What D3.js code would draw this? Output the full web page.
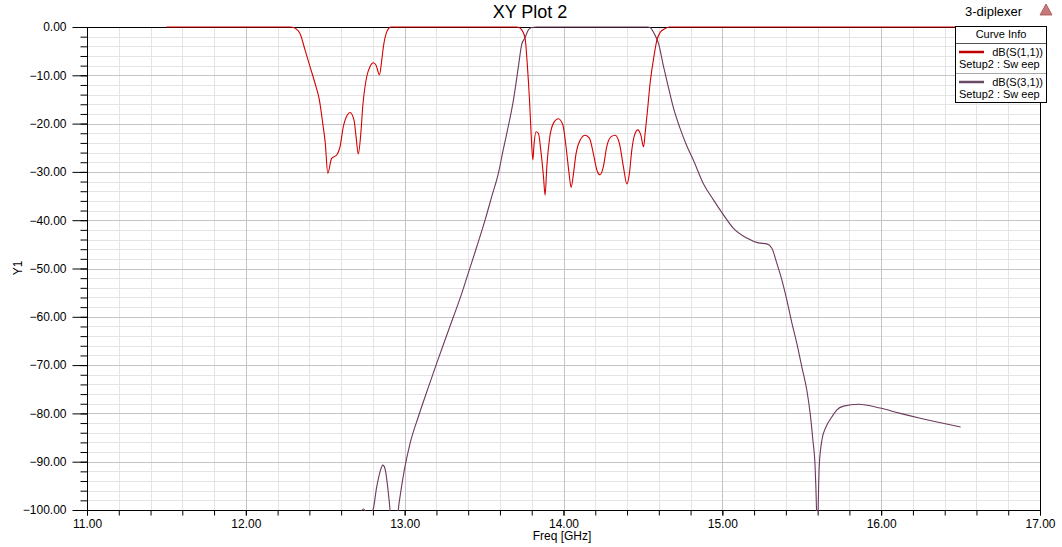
<!DOCTYPE html>
<html>
<head>
<meta charset="utf-8">
<script src="https://cdn.jsdelivr.net/npm/d3@7"></script>
<style>
  html, body { margin: 0; padding: 0; background: #fff; }
  svg { display: block; font-family: "Liberation Sans", Arial, sans-serif; }
</style>
</head>
<body>
<svg id="chart" width="1062" height="547"></svg>
<script>
// ---------------- data ----------------
const s11Freq = [11.5, 12.0, 12.28, 12.30, 12.34, 12.373, 12.404, 12.436, 12.463, 12.484, 12.50, 12.516, 12.54, 12.572, 12.593, 12.614, 12.639, 12.656, 12.681, 12.694, 12.708, 12.724, 12.736, 12.761, 12.782, 12.803, 12.82, 12.841, 12.856, 12.866, 12.887, 12.90, 12.912, 13.70, 13.716, 13.737, 13.758, 13.773, 13.786, 13.796, 13.807, 13.815, 13.827, 13.842, 13.857, 13.874, 13.884, 13.895, 13.911, 13.937, 13.968, 13.996, 14.016, 14.035, 14.048, 14.063, 14.079, 14.105, 14.136, 14.163, 14.188, 14.21, 14.23, 14.251, 14.272, 14.30, 14.325, 14.352, 14.377, 14.399, 14.415, 14.43, 14.447, 14.468, 14.487, 14.504, 14.514, 14.529, 14.545, 14.566, 14.588, 14.609, 14.64, 14.67, 16.5];
const s11dB = [0, 0, 0, -0.1, -1.3, -4.8, -8.2, -11.7, -15.1, -19.9, -24, -30.3, -27.2, -26.5, -24.8, -20.6, -18.2, -17.7, -19.3, -22.7, -26.3, -22, -16.5, -10.3, -8.2, -7.4, -7.9, -9.9, -6.8, -4.1, -1.0, -0.3, 0, 0, -0.05, -0.6, -2.3, -8.2, -15.1, -22, -27.5, -24.1, -21.7, -22, -25.5, -31, -34.8, -28.9, -23.4, -19.9, -19.0, -20.3, -24.8, -30.3, -33.2, -30.3, -26.2, -23.4, -22.4, -23.0, -26.2, -29.6, -30.6, -28.9, -24.8, -22.7, -22.4, -24.1, -28.9, -32.5, -30.3, -25.5, -22.4, -21.3, -22.4, -24.8, -22, -17.2, -11.7, -6.8, -2.7, -1.1, -0.3, 0, 0];

const s31Freq = [11.5, 12.5, 12.70, 12.74, 12.77, 12.80, 12.824, 12.845, 12.862, 12.876, 12.893, 12.908, 12.93, 12.95, 12.96, 12.977, 12.998, 13.034, 13.086, 13.15, 13.202, 13.254, 13.307, 13.36, 13.40, 13.454, 13.506, 13.548, 13.59, 13.62, 13.643, 13.685, 13.716, 13.737, 13.758, 13.779, 13.80, 13.83, 14.53, 14.545, 14.57, 14.598, 14.63, 14.66, 14.69, 14.734, 14.776, 14.818, 14.88, 14.944, 15.007, 15.07, 15.154, 15.227, 15.28, 15.312, 15.343, 15.375, 15.406, 15.438, 15.469, 15.50, 15.532, 15.553, 15.57, 15.584, 15.593, 15.598, 15.603, 15.61, 15.627, 15.654, 15.69, 15.72, 15.763, 15.857, 15.994, 16.12, 16.246, 16.5];
const s31dB = [-130, -115, -102, -99.8, -101, -100, -95.2, -92.1, -90.7, -91.4, -95.2, -100, -110, -104, -100, -95.9, -91.7, -86.2, -80.7, -74.5, -69.6, -64.8, -60, -55.1, -51.0, -45.5, -40, -35.1, -30.3, -25.5, -22, -15.1, -8.2, -3.6, -2.2, -0.6, -0.1, 0, 0, -0.1, -1.3, -3.4, -8.2, -12.4, -16.5, -21.0, -24.6, -27.6, -32.4, -35.8, -38.9, -41.7, -43.7, -44.7, -44.9, -45.8, -48.9, -52.4, -56.5, -61.3, -65.5, -70.3, -75.2, -80, -85.5, -91, -100, -108, -100, -91, -85.5, -82.7, -80.7, -79.3, -78.5, -78.1, -78.9, -80, -81, -82.8];

const xTicks = [11, 12, 13, 14, 15, 16, 17];
const yTicks = [0, -10, -20, -30, -40, -50, -60, -70, -80, -90, -100];
const seriesNames = ["dB(S(1,1))", "dB(S(3,1))"];
const seriesSetup = ["Setup2 : Sw eep", "Setup2 : Sw eep"];
const seriesColors = ["#d40000", "#6b3a5c"];
const legendColors = ["#c00000", "#6b4a66"];

// ---------------- layout ----------------
const svg = d3.select("#chart");
const L = 87, T = 27, R = 1040, B = 510;
const x = d3.scaleLinear().domain([11, 17]).range([L, R]);
const y = d3.scaleLinear().domain([-100, 0]).range([B, T]);

// grid
const minorX = d3.range(11, 17.001, 0.2).map(v => +v.toFixed(2));
const minorY = d3.range(-100, 0.001, 2).map(v => +v.toFixed(2));
const grid = svg.append("g");
grid.selectAll("line.mx").data(minorX).enter().append("line")
  .attr("x1", d => Math.round(x(d)) + 0.5).attr("x2", d => Math.round(x(d)) + 0.5)
  .attr("y1", T).attr("y2", B).attr("stroke", "#e4e4e4").attr("stroke-width", 1);
grid.selectAll("line.my").data(minorY).enter().append("line")
  .attr("y1", d => Math.round(y(d)) + 0.5).attr("y2", d => Math.round(y(d)) + 0.5)
  .attr("x1", L).attr("x2", R).attr("stroke", "#e4e4e4").attr("stroke-width", 1);
grid.selectAll("line.Mx").data(xTicks).enter().append("line")
  .attr("x1", d => Math.round(x(d)) + 0.5).attr("x2", d => Math.round(x(d)) + 0.5)
  .attr("y1", T).attr("y2", B).attr("stroke", "#c4c4c4").attr("stroke-width", 1);
grid.selectAll("line.My").data(yTicks).enter().append("line")
  .attr("y1", d => Math.round(y(d)) + 0.5).attr("y2", d => Math.round(y(d)) + 0.5)
  .attr("x1", L).attr("x2", R).attr("stroke", "#c4c4c4").attr("stroke-width", 1);

// border
svg.append("rect").attr("x", L + 0.5).attr("y", T + 0.5)
  .attr("width", R - L).attr("height", B - T)
  .attr("fill", "none").attr("stroke", "#000").attr("stroke-width", 1);

// axes
const yAxisMinor = d3.axisLeft(y).tickValues(minorY).tickSize(7).tickFormat("");
const yAxisMajor = d3.axisLeft(y).tickValues(yTicks).tickSize(15).tickPadding(6).tickFormat(d3.format(".2f"));
const xAxisMinor = d3.axisBottom(x).tickValues(minorX).tickSize(5).tickFormat("");
const xAxisMajor = d3.axisBottom(x).tickValues(xTicks).tickSize(5).tickPadding(4).tickFormat(d3.format(".2f"));

function styleAxis(g) {
  g.select(".domain").remove();
  g.selectAll(".tick line").attr("stroke", "#000");
  g.selectAll(".tick text").attr("fill", "#000").attr("font-size", 12)
    .attr("font-family", "'Liberation Sans', Arial, sans-serif");
}
svg.append("g").attr("transform", `translate(${L + 0.5},0)`).call(yAxisMinor).call(styleAxis);
svg.append("g").attr("transform", `translate(${L + 0.5},0)`).call(yAxisMajor).call(styleAxis);
svg.append("g").attr("transform", `translate(0,${B + 0.5})`).call(xAxisMinor).call(styleAxis);
svg.append("g").attr("transform", `translate(0,${B + 0.5})`).call(xAxisMajor).call(styleAxis);

// curves
svg.append("clipPath").attr("id", "plotclip").append("rect")
  .attr("x", L).attr("y", T - 1).attr("width", R - L + 1).attr("height", B - T + 2);
const line = d3.line().curve(d3.curveMonotoneX).x(d => x(d[0])).y(d => y(d[1]));
const cg = svg.append("g").attr("clip-path", "url(#plotclip)");
const s31 = s31Freq.map((f, i) => [f, s31dB[i]]);
const s11 = s11Freq.map((f, i) => [f, s11dB[i]]);
cg.append("path").datum(s31).attr("d", line).attr("fill", "none")
  .attr("stroke", seriesColors[1]).attr("stroke-width", 1.1);
cg.append("path").datum(s11).attr("d", line).attr("fill", "none")
  .attr("stroke", seriesColors[0]).attr("stroke-width", 1.1);

// titles
svg.append("text").attr("x", 530).attr("y", 18).attr("text-anchor", "middle")
  .attr("font-size", 18).attr("fill", "#000").text("XY Plot 2");
svg.append("text").attr("x", 965).attr("y", 16).attr("font-size", 13)
  .attr("fill", "#000").text("3-diplexer");
svg.append("path").attr("d", "M1046,4 L1052,15 L1040,15 Z")
  .attr("fill", "#c87a78").attr("stroke", "#a05050").attr("stroke-width", 0.8);
svg.append("text").attr("x", 562).attr("y", 540).attr("text-anchor", "middle")
  .attr("font-size", 12).attr("fill", "#000").text("Freq [GHz]");
svg.append("text").attr("transform", "translate(22,268) rotate(-90)")
  .attr("text-anchor", "middle").attr("font-size", 12).attr("fill", "#000").text("Y1");

// legend
const lg = svg.append("g");
lg.append("rect").attr("x", 955.5).attr("y", 26.5).attr("width", 91).attr("height", 76)
  .attr("fill", "#fff").attr("stroke", "#000");
lg.append("text").attr("x", 1001).attr("y", 38).attr("text-anchor", "middle")
  .attr("font-size", 11).attr("fill", "#000").text("Curve Info");
[43.5, 73.5].forEach((yy, i) => {
  lg.append("line").attr("x1", 956).attr("x2", 1046).attr("y1", yy).attr("y2", yy)
    .attr("stroke", i === 0 ? "#555" : "#aaa");
});
seriesNames.forEach((name, i) => {
  const y0 = 52 + i * 30;
  lg.append("line").attr("x1", 959).attr("x2", 984).attr("y1", y0).attr("y2", y0)
    .attr("stroke", legendColors[i]).attr("stroke-width", 2.5);
  lg.append("text").attr("x", 1043).attr("y", y0 + 4).attr("text-anchor", "end")
    .attr("font-size", 11).attr("fill", "#000").text(name);
  lg.append("text").attr("x", 959).attr("y", y0 + 16)
    .attr("font-size", 11).attr("fill", "#000").text(seriesSetup[i]);
});
</script>
</body>
</html>
